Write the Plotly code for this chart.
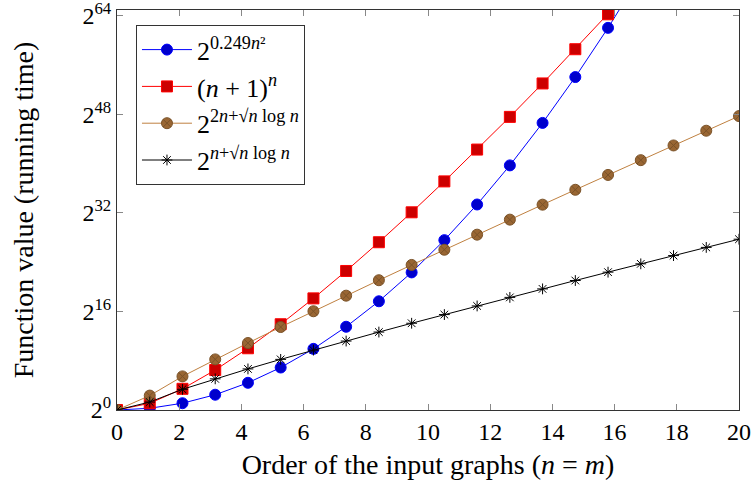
import plotly.graph_objects as go

# sample positions (order n of input graphs)
n_vals = [0.0, 1.053, 2.105, 3.158, 4.211, 5.263, 6.316, 7.368, 8.421, 9.474,
          10.526, 11.579, 12.632, 13.684, 14.737, 15.789, 16.842, 17.895, 18.947, 20.0]

# log2 of the function values
s_quad = [0.0, 0.28, 1.10, 2.48, 4.42, 6.90, 9.93, 13.52, 17.66, 22.35,
          27.59, 33.38, 39.73, 46.63, 54.08, 62.07, 70.63]
s_fact = [0.0, 1.09, 3.44, 6.49, 10.03, 13.93, 18.13, 22.58, 27.25, 32.11,
          37.13, 42.30, 47.61, 53.04, 58.60, 64.27, 70.02]
s_two = [0.0, 2.34, 5.46, 8.22, 10.88, 13.48, 16.04, 18.57, 21.08, 23.56,
         26.03, 28.48, 30.92, 33.35, 35.77, 38.18, 40.58, 42.97, 45.36, 47.74]
s_one = [0.0, 1.29, 3.36, 5.06, 6.67, 8.22, 9.73, 11.20, 12.66, 14.09,
         15.50, 16.90, 18.29, 19.67, 21.03, 22.39, 23.74, 25.08, 26.41, 27.74]

names = ["2<sup>0.249<i>n</i>²</sup>",
         "(<i>n</i> + 1)<sup><i>n</i></sup>",
         "2<sup>2<i>n</i>+√<i>n</i> log <i>n</i></sup>",
         "2<sup><i>n</i>+√<i>n</i> log <i>n</i></sup>"]

x_ticks = [0, 2, 4, 6, 8, 10, 12, 14, 16, 18, 20]
y_ticks = [0, 16, 32, 48, 64]
y_tick_text = ["2<sup>0</sup>", "2<sup>16</sup>", "2<sup>32</sup>", "2<sup>48</sup>", "2<sup>64</sup>"]

FONT = "Liberation Serif"
TICK_FS = 24
TITLE_FS = 28
LEG_FS = 26

fig = go.Figure()
fig.add_trace(go.Scatter(
    x=n_vals[:len(s_quad)], y=s_quad, name=names[0], mode="lines+markers",
    line=dict(color="#0000ff", width=1),
    marker=dict(symbol="circle", size=11, color="#0000cc", line=dict(color="#0000ff", width=1))))
fig.add_trace(go.Scatter(
    x=n_vals[:len(s_fact)], y=s_fact, name=names[1], mode="lines+markers",
    line=dict(color="#ff0000", width=1),
    marker=dict(symbol="square", size=11, color="#cc0000", line=dict(color="#ff0000", width=1))))
fig.add_trace(go.Scatter(
    x=n_vals, y=s_two, name=names[2], mode="lines+markers",
    line=dict(color="#bf8040", width=1),
    marker=dict(symbol="circle-x", size=11, color="#996633", line=dict(color="#7a5228", width=1))))
fig.add_trace(go.Scatter(
    x=n_vals, y=s_one, name=names[3], mode="lines+markers",
    line=dict(color="#000000", width=1),
    marker=dict(symbol="asterisk-open", size=9, color="#000000", line=dict(color="#000000", width=1))))

axis_common = dict(
    showgrid=False, zeroline=False, showline=True, linecolor="#333333", linewidth=1,
    mirror="allticks", ticks="inside", ticklen=6, tickcolor="#888888", tickwidth=1,
    tickfont=dict(family=FONT, size=TICK_FS, color="#000000"), automargin=False,
    ticklabeloverflow="allow",
)

fig.update_layout(
    width=752, height=486,
    margin=dict(l=117, r=13, t=10, b=76),
    paper_bgcolor="white", plot_bgcolor="white",
    font=dict(family=FONT, color="#000000"),
    xaxis=dict(range=[0, 20], tickvals=x_ticks, ticktext=[str(v) for v in x_ticks],
               title=dict(text="Order of the input graphs (<i>n</i> = <i>m</i>)",
                          font=dict(family=FONT, size=TITLE_FS), standoff=10),
               **axis_common),
    yaxis=dict(range=[0, 64.97], tickvals=y_ticks, ticktext=y_tick_text,
               title=dict(text="Function value (running time)",
                          font=dict(family=FONT, size=TITLE_FS), standoff=40),
               **axis_common),
    legend=dict(x=0.0305, y=0.962, xanchor="left", yanchor="top",
                bgcolor="white", bordercolor="#333333", borderwidth=1,
                font=dict(family=FONT, size=LEG_FS), tracegroupgap=0,
                itemwidth=50),
    showlegend=True,
)

fig.write_html("out.html", config={"displayModeBar": False},
               post_script="document.body.style.margin='0';document.body.style.overflow='hidden';")
